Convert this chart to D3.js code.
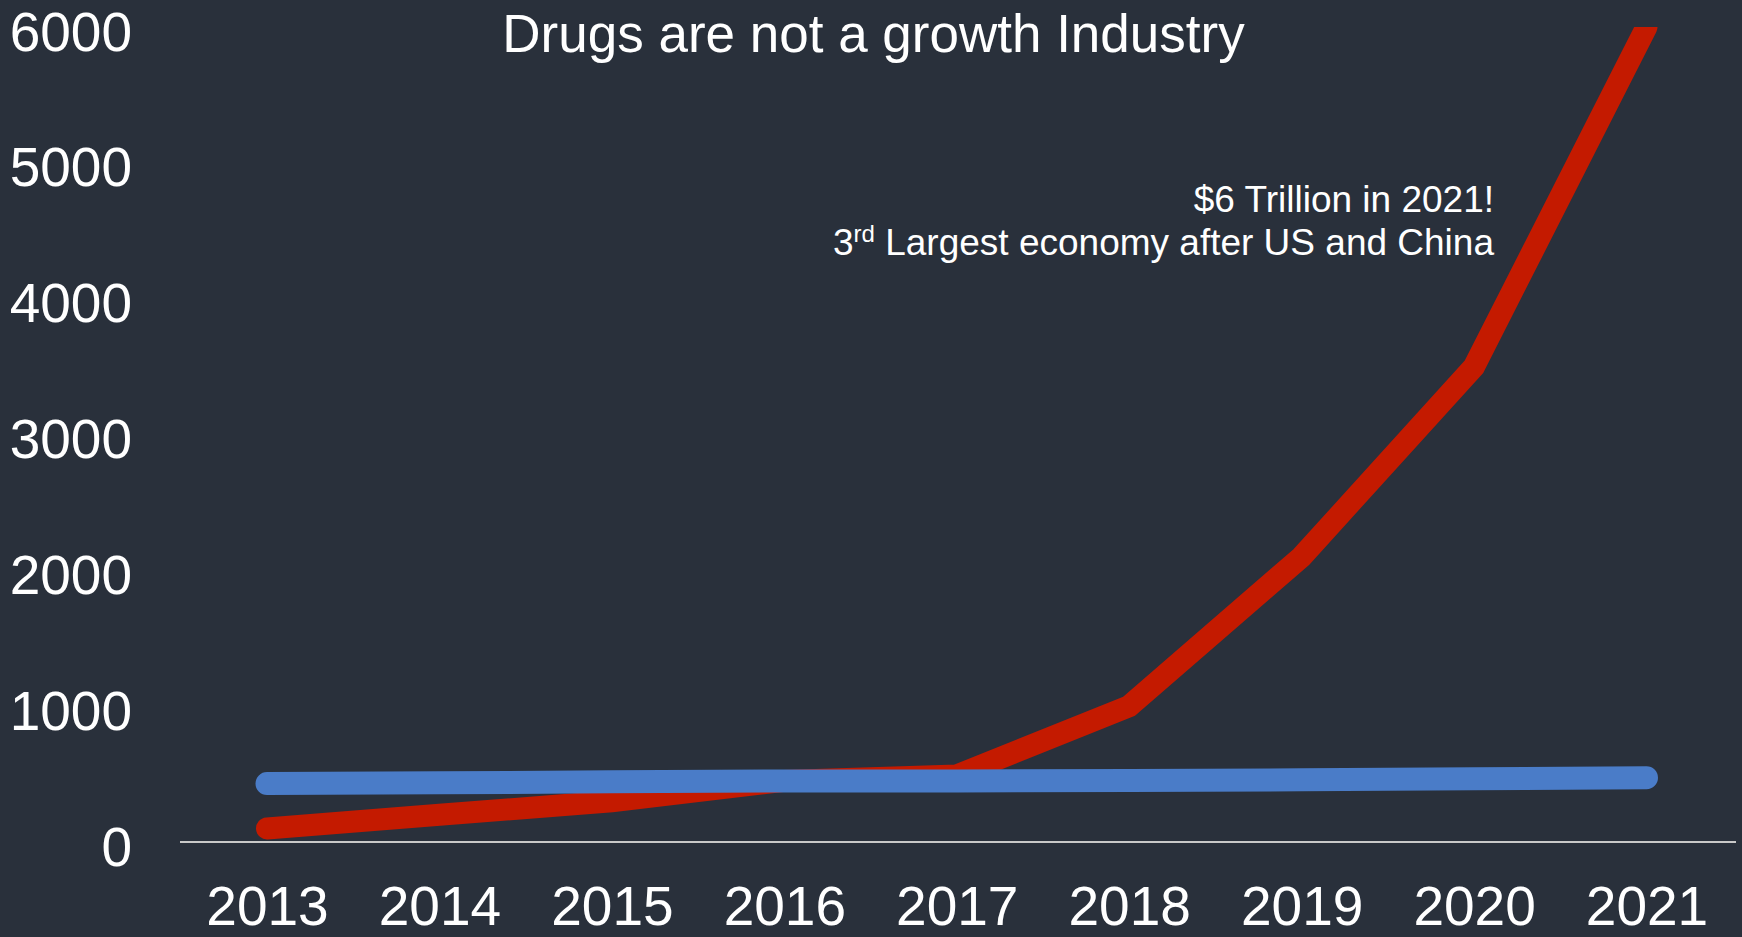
<!DOCTYPE html>
<html>
<head>
<meta charset="utf-8">
<script src="https://cdn.jsdelivr.net/npm/d3@7"></script>
<style>
  html, body { margin: 0; padding: 0; background: #29303b; overflow: hidden; }
  svg { display: block; font-family: "Liberation Sans", Arial, sans-serif; }
</style>
</head>
<body>
<svg id="chart" width="1742" height="937"></svg>
<script>
// Years on the category axis
const years = ["2013", "2014", "2015", "2016", "2017", "2018", "2019", "2020", "2021"];
// Drug trade estimate (red) and the flat comparison series (blue)
const drugValues = [100, 200, 300, 450, 490, 1000, 2100, 3500, 6000];
const flatValues = [430, 436, 443, 449, 450, 452, 458, 466, 473];
// Value axis ticks
const yTicks = [0, 1000, 2000, 3000, 4000, 5000, 6000];

const titleText = "Drugs are not a growth Industry";
const noteLine1 = "$6 Trillion in 2021!";

const W = 1742, H = 937;
const svg = d3.select("#chart");

svg.append("rect").attr("width", W).attr("height", H).attr("fill", "#29303b");

const x = d3.scalePoint().domain(years).range([267, 1646.5]).padding(0);
const y = d3.scaleLinear().domain([0, 6000]).range([842, 27]);

// plot area clip (top edge at the highest tick)
svg.append("defs").append("clipPath").attr("id", "plotClip")
  .append("rect").attr("x", 0).attr("y", y(6000)).attr("width", W).attr("height", H - y(6000));

// baseline
svg.append("line")
  .attr("x1", 180).attr("x2", 1736)
  .attr("y1", y(0)).attr("y2", y(0))
  .attr("stroke", "#c9c9c9").attr("stroke-width", 2);

// y axis labels
const yAxis = d3.axisLeft(y).tickValues(yTicks).tickSize(0).tickPadding(0).tickFormat(d3.format("d"));
const gy = svg.append("g").attr("transform", "translate(132,0)").call(yAxis);
gy.select(".domain").remove();
gy.selectAll("text")
  .attr("fill", "#ffffff").attr("font-size", 55)
  .attr("font-family", "'Liberation Sans', Arial, sans-serif")
  .attr("dy", 23);

// x axis labels
const xAxis = d3.axisBottom(x).tickSize(0).tickPadding(0);
const gx = svg.append("g").attr("transform", "translate(0,925)").call(xAxis);
gx.select(".domain").remove();
gx.selectAll("text")
  .attr("fill", "#ffffff").attr("font-size", 55)
  .attr("font-family", "'Liberation Sans', Arial, sans-serif")
  .attr("y", 0).attr("dy", 0);

// series lines
const line = d3.line().x((d, i) => x(years[i])).y(d => y(d));
const lines = svg.append("g").attr("clip-path", "url(#plotClip)");
lines.append("path").datum(drugValues)
  .attr("d", line).attr("fill", "none")
  .attr("stroke", "#c41a00").attr("stroke-width", 22)
  .attr("stroke-linecap", "round").attr("stroke-linejoin", "miter");
lines.append("path").datum(flatValues)
  .attr("d", line).attr("fill", "none")
  .attr("stroke", "#4a7cc8").attr("stroke-width", 23)
  .attr("stroke-linecap", "round").attr("stroke-linejoin", "miter");

// title
svg.append("text")
  .attr("x", 873.5).attr("y", 52)
  .attr("text-anchor", "middle")
  .attr("fill", "#ffffff").attr("font-size", 53)
  .text(titleText);

// annotation
const note = svg.append("text")
  .attr("text-anchor", "end")
  .attr("fill", "#ffffff").attr("font-size", 37);
note.append("tspan").attr("x", 1494).attr("y", 212).text(noteLine1);
const l2 = note.append("tspan").attr("x", 1494).attr("y", 255);
l2.append("tspan").text("3");
l2.append("tspan").attr("font-size", 24).attr("dy", -13).text("rd");
l2.append("tspan").attr("dy", 13).text(" Largest economy after US and China");
</script>
</body>
</html>
